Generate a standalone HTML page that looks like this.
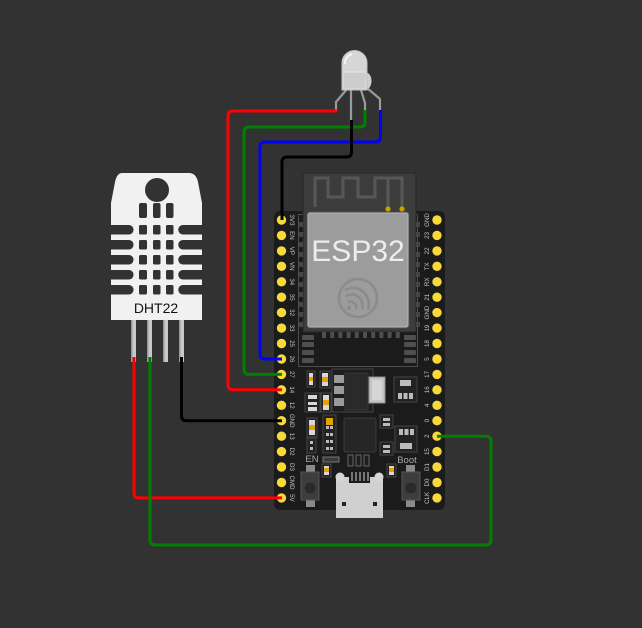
<!DOCTYPE html>
<html><head><meta charset="utf-8"><style>
html,body{margin:0;padding:0;background:#323232;}
svg{display:block;}
.pl{font-family:"Liberation Sans",sans-serif;font-size:6.2px;fill:#c4c4c4;}
</style></head><body>
<svg width="642" height="628" viewBox="0 0 642 628" xmlns="http://www.w3.org/2000/svg">
<rect width="642" height="628" fill="#323232"/>

<!-- ===== ESP32 board ===== -->
<rect x="274" y="211" width="171" height="299" rx="6" fill="#1b1b1b"/>
<rect x="298.5" y="214.5" width="119" height="152" fill="none" stroke="#4e4e4e" stroke-width="1"/>
<rect x="303" y="173" width="113" height="159" fill="#3c3c3c" stroke="#262626" stroke-width="1"/>
<path d="M315,207 V178 H328 V197 H343 V178 H358 V197 H375 V178 H402 V208 M388,178 V208" fill="none" stroke="#575757" stroke-width="3"/>
<circle cx="388" cy="209" r="2.6" fill="#c9a100"/>
<circle cx="402" cy="209" r="2.6" fill="#c9a100"/>
<g fill="#454545">
<rect x="299" y="222" width="4" height="5"/><rect x="299" y="232" width="4" height="5"/><rect x="299" y="242" width="4" height="5"/><rect x="299" y="252" width="4" height="5"/><rect x="299" y="262" width="4" height="5"/><rect x="299" y="272" width="4" height="5"/><rect x="299" y="282" width="4" height="5"/><rect x="299" y="292" width="4" height="5"/><rect x="299" y="302" width="4" height="5"/><rect x="299" y="312" width="4" height="5"/><rect x="299" y="322" width="4" height="5"/>
<rect x="416" y="222" width="4" height="5"/><rect x="416" y="232" width="4" height="5"/><rect x="416" y="242" width="4" height="5"/><rect x="416" y="252" width="4" height="5"/><rect x="416" y="262" width="4" height="5"/><rect x="416" y="272" width="4" height="5"/><rect x="416" y="282" width="4" height="5"/><rect x="416" y="292" width="4" height="5"/><rect x="416" y="302" width="4" height="5"/><rect x="416" y="312" width="4" height="5"/><rect x="416" y="322" width="4" height="5"/>
</g>
<g fill="#4f4f4f">
<rect x="322" y="332" width="4" height="6"/><rect x="330.2" y="332" width="4" height="6"/><rect x="338.4" y="332" width="4" height="6"/><rect x="346.6" y="332" width="4" height="6"/><rect x="354.8" y="332" width="4" height="6"/><rect x="363" y="332" width="4" height="6"/><rect x="371.2" y="332" width="4" height="6"/><rect x="379.4" y="332" width="4" height="6"/><rect x="387.6" y="332" width="4" height="6"/><rect x="395.8" y="332" width="4" height="6"/>
<rect x="302" y="335" width="12" height="5" rx="1"/><rect x="302" y="342" width="12" height="5" rx="1"/><rect x="302" y="350" width="12" height="5" rx="1"/><rect x="302" y="358" width="12" height="5" rx="1"/>
<rect x="404" y="335" width="12" height="5" rx="1"/><rect x="404" y="342" width="12" height="5" rx="1"/><rect x="404" y="350" width="12" height="5" rx="1"/><rect x="404" y="358" width="12" height="5" rx="1"/>
</g>
<rect x="306.5" y="211.5" width="103" height="117" rx="3" fill="#4a4a4a"/>
<rect x="308" y="213" width="100" height="114" rx="2" fill="#9c9c9c" stroke="#b8b8b8" stroke-width="1"/>
<text x="358" y="261" text-anchor="middle" font-family="Liberation Sans, sans-serif" font-size="30" fill="#ededed">ESP32</text>
<g fill="none" stroke="#8b8b8b" stroke-width="2.5">
<circle cx="358" cy="298" r="19"/>
<path d="M345,290 A16,16 0 0 1 368,309"/>
<path d="M346,296 A11,11 0 0 1 362,309"/>
<path d="M348,302 A6,6 0 0 1 356,309"/>
</g>
<circle cx="349" cy="308" r="2" fill="#8b8b8b"/>

<g stroke="#444" stroke-width="1" fill="#222">
<rect x="307" y="371" width="8" height="16"/>
<rect x="320" y="371" width="10" height="17"/>
<rect x="305" y="393" width="15" height="19"/>
<rect x="321" y="393" width="10" height="19"/>
<rect x="307" y="418" width="10" height="19"/>
<rect x="307" y="438" width="9" height="15"/>
<rect x="323" y="415" width="13" height="38"/>
<rect x="380" y="415" width="13" height="13"/>
<rect x="380" y="442" width="13" height="13"/>
<rect x="394" y="377" width="23" height="25"/>
<rect x="395" y="426" width="22" height="26"/>
</g>
<g fill="#d8d8d8">
<rect x="309" y="373" width="4" height="12"/><rect x="322" y="373" width="6" height="13"/>
<rect x="323" y="395" width="6" height="15"/><rect x="309" y="420" width="6" height="15"/>
<rect x="308" y="395" width="9" height="4"/><rect x="308" y="402" width="9" height="3"/><rect x="308" y="407" width="9" height="4"/>
</g>
<g fill="#e3a400">
<rect x="309" y="377" width="4" height="4"/><rect x="322" y="377" width="6" height="5"/>
<rect x="323" y="400" width="6" height="5"/><rect x="309" y="425" width="6" height="5"/>
<rect x="326" y="418" width="7" height="4"/><rect x="326" y="422" width="7" height="3"/>
<rect x="324" y="467" width="6" height="5"/><rect x="389" y="467" width="6" height="5"/>
</g>
<g fill="#bbb">
<rect x="310" y="441" width="3" height="3"/><rect x="310" y="447" width="3" height="3"/>
<rect x="326" y="426" width="3" height="3"/><rect x="330" y="426" width="3" height="3"/>
<rect x="326" y="433" width="3" height="3"/><rect x="330" y="433" width="3" height="3"/>
<rect x="326" y="440" width="3" height="3"/><rect x="330" y="440" width="3" height="3"/>
<rect x="326" y="447" width="3" height="3"/><rect x="330" y="447" width="3" height="3"/>
<rect x="383" y="418" width="7" height="3"/><rect x="383" y="423" width="7" height="3"/>
<rect x="383" y="445" width="7" height="3"/><rect x="383" y="450" width="7" height="3"/>
<rect x="400" y="380" width="11" height="6"/>
<rect x="398" y="393" width="4" height="6"/><rect x="403.5" y="393" width="4" height="6"/><rect x="409" y="393" width="4" height="6"/>
<rect x="399" y="429" width="4" height="6"/><rect x="404.5" y="429" width="4" height="6"/><rect x="410" y="429" width="4" height="6"/>
<rect x="400" y="443" width="12" height="6"/>
</g>
<rect x="332" y="369" width="41" height="43" fill="#1e1e1e" stroke="#444"/>
<g fill="#9a9a9a"><rect x="334" y="375" width="10" height="8"/><rect x="334" y="386" width="10" height="8"/><rect x="334" y="398" width="10" height="8"/></g>
<rect x="345" y="373" width="23" height="37" fill="#2a2a2a" stroke="#363636"/>
<rect x="369" y="377" width="16" height="26" fill="#c4c4c4" stroke="#8f8f8f"/>
<rect x="372" y="380" width="10" height="20" fill="#d6d6d6"/>
<rect x="344" y="418" width="32" height="34" rx="2" fill="#262626" stroke="#3a3a3a"/>
<rect x="323" y="457" width="16" height="5" fill="#3a3a3a" stroke="#777"/>
<g fill="#1e1e1e" stroke="#666"><rect x="348" y="455" width="5" height="11"/><rect x="356" y="455" width="5" height="11"/><rect x="364" y="455" width="5" height="11"/></g>
<g fill="#222" stroke="#444"><rect x="322" y="464" width="9" height="13"/><rect x="387" y="464" width="9" height="13"/></g>
<g fill="#d8d8d8"><rect x="324" y="466" width="5" height="9"/><rect x="389" y="466" width="5" height="9"/></g>
<g fill="#e3a400"><rect x="324" y="468" width="5" height="4"/><rect x="389" y="468" width="5" height="4"/></g>
<text x="312" y="462" text-anchor="middle" font-family="Liberation Sans, sans-serif" font-size="9.5" fill="#a8a8a8">EN</text>
<text x="407" y="463" text-anchor="middle" font-family="Liberation Sans, sans-serif" font-size="9.5" fill="#a8a8a8">Boot</text>
<g>
<rect x="306" y="465" width="9" height="8" fill="#8a8a8a"/>
<rect x="306" y="499" width="9" height="8" fill="#8a8a8a"/>
<rect x="301" y="472" width="18" height="28" fill="#3d3d3d" stroke="#555"/>
<circle cx="310" cy="488" r="5.5" fill="#2a2a2a"/>
<rect x="406" y="465" width="9" height="8" fill="#8a8a8a"/>
<rect x="406" y="499" width="9" height="8" fill="#8a8a8a"/>
<rect x="402" y="472" width="18" height="28" fill="#3d3d3d" stroke="#555"/>
<circle cx="411" cy="488" r="5.5" fill="#2a2a2a"/>
</g>
<rect x="336" y="477" width="47" height="41" fill="#d0d0d0"/>
<circle cx="340" cy="477" r="4.5" fill="#d6d6d6"/>
<circle cx="379" cy="477" r="4.5" fill="#d6d6d6"/>
<rect x="349" y="472" width="21" height="11" fill="#1b1b1b"/>
<g stroke="#cfcfcf" stroke-width="1"><line x1="352" y1="472" x2="352" y2="481"/><line x1="356" y1="472" x2="356" y2="481"/><line x1="360" y1="472" x2="360" y2="481"/><line x1="364" y1="472" x2="364" y2="481"/><line x1="368" y1="472" x2="368" y2="481"/></g>
<rect x="342" y="502" width="4" height="4" fill="#222"/>
<rect x="373" y="502" width="4" height="4" fill="#222"/>

<g fill="#f7da3a">
<circle cx="281.5" cy="220" r="4.7"/><circle cx="281.5" cy="235.4" r="4.7"/><circle cx="281.5" cy="250.9" r="4.7"/><circle cx="281.5" cy="266.3" r="4.7"/><circle cx="281.5" cy="281.8" r="4.7"/><circle cx="281.5" cy="297.2" r="4.7"/><circle cx="281.5" cy="312.6" r="4.7"/><circle cx="281.5" cy="328.1" r="4.7"/><circle cx="281.5" cy="343.5" r="4.7"/><circle cx="281.5" cy="359" r="4.7"/><circle cx="281.5" cy="374.4" r="4.7"/><circle cx="281.5" cy="389.8" r="4.7"/><circle cx="281.5" cy="405.3" r="4.7"/><circle cx="281.5" cy="420.7" r="4.7"/><circle cx="281.5" cy="436.2" r="4.7"/><circle cx="281.5" cy="451.6" r="4.7"/><circle cx="281.5" cy="467" r="4.7"/><circle cx="281.5" cy="482.5" r="4.7"/><circle cx="281.5" cy="497.9" r="4.7"/>
<circle cx="437" cy="220" r="4.7"/><circle cx="437" cy="235.4" r="4.7"/><circle cx="437" cy="250.9" r="4.7"/><circle cx="437" cy="266.3" r="4.7"/><circle cx="437" cy="281.8" r="4.7"/><circle cx="437" cy="297.2" r="4.7"/><circle cx="437" cy="312.6" r="4.7"/><circle cx="437" cy="328.1" r="4.7"/><circle cx="437" cy="343.5" r="4.7"/><circle cx="437" cy="359" r="4.7"/><circle cx="437" cy="374.4" r="4.7"/><circle cx="437" cy="389.8" r="4.7"/><circle cx="437" cy="405.3" r="4.7"/><circle cx="437" cy="420.7" r="4.7"/><circle cx="437" cy="436.2" r="4.7"/><circle cx="437" cy="451.6" r="4.7"/><circle cx="437" cy="467" r="4.7"/><circle cx="437" cy="482.5" r="4.7"/><circle cx="437" cy="497.9" r="4.7"/>
</g>
<g class="pl" text-anchor="middle">
<text transform="translate(290,220) rotate(90)">3V3</text>
<text transform="translate(290,235.4) rotate(90)">EN</text>
<text transform="translate(290,250.9) rotate(90)">VP</text>
<text transform="translate(290,266.3) rotate(90)">VN</text>
<text transform="translate(290,281.8) rotate(90)">34</text>
<text transform="translate(290,297.2) rotate(90)">35</text>
<text transform="translate(290,312.6) rotate(90)">32</text>
<text transform="translate(290,328.1) rotate(90)">33</text>
<text transform="translate(290,343.5) rotate(90)">25</text>
<text transform="translate(290,359) rotate(90)">26</text>
<text transform="translate(290,374.4) rotate(90)">27</text>
<text transform="translate(290,389.8) rotate(90)">14</text>
<text transform="translate(290,405.3) rotate(90)">12</text>
<text transform="translate(290,420.7) rotate(90)">GND</text>
<text transform="translate(290,436.2) rotate(90)">13</text>
<text transform="translate(290,451.6) rotate(90)">D2</text>
<text transform="translate(290,467) rotate(90)">D3</text>
<text transform="translate(290,482.5) rotate(90)">CMD</text>
<text transform="translate(290,497.9) rotate(90)">5V</text>
<text transform="translate(429,220) rotate(-90)">GND</text>
<text transform="translate(429,235.4) rotate(-90)">23</text>
<text transform="translate(429,250.9) rotate(-90)">22</text>
<text transform="translate(429,266.3) rotate(-90)">TX</text>
<text transform="translate(429,281.8) rotate(-90)">RX</text>
<text transform="translate(429,297.2) rotate(-90)">21</text>
<text transform="translate(429,312.6) rotate(-90)">GND</text>
<text transform="translate(429,328.1) rotate(-90)">19</text>
<text transform="translate(429,343.5) rotate(-90)">18</text>
<text transform="translate(429,359) rotate(-90)">5</text>
<text transform="translate(429,374.4) rotate(-90)">17</text>
<text transform="translate(429,389.8) rotate(-90)">16</text>
<text transform="translate(429,405.3) rotate(-90)">4</text>
<text transform="translate(429,420.7) rotate(-90)">0</text>
<text transform="translate(429,436.2) rotate(-90)">2</text>
<text transform="translate(429,451.6) rotate(-90)">15</text>
<text transform="translate(429,467) rotate(-90)">D1</text>
<text transform="translate(429,482.5) rotate(-90)">D0</text>
<text transform="translate(429,497.9) rotate(-90)">CLK</text>
</g>

<!-- ===== DHT22 ===== -->
<g>
<rect x="131" y="318" width="5" height="44" fill="#c9c9c9"/><rect x="131" y="318" width="1.5" height="44" fill="#9a9a9a"/>
<rect x="147" y="318" width="5" height="44" fill="#c9c9c9"/><rect x="147" y="318" width="1.5" height="44" fill="#9a9a9a"/>
<rect x="163" y="318" width="5" height="44" fill="#c9c9c9"/><rect x="163" y="318" width="1.5" height="44" fill="#9a9a9a"/>
<rect x="179" y="318" width="5" height="44" fill="#c9c9c9"/><rect x="179" y="318" width="1.5" height="44" fill="#9a9a9a"/>
<path d="M122,173 H189 Q196,173 198,182 L202,203 V320 H111 V203 L115,182 Q117,173 122,173 Z" fill="#f1f1f1"/>
<circle cx="157" cy="190" r="12" fill="#323232"/>
<g fill="#323232">
<rect x="139" y="203" width="8" height="15" rx="2"/><rect x="153" y="203" width="7.5" height="15" rx="2"/><rect x="166" y="203" width="7.5" height="15" rx="2"/>
<rect x="106" y="225" width="27.5" height="9.5" rx="4.5"/><rect x="139" y="225" width="8" height="9.5" rx="1.5"/><rect x="153" y="225" width="7.5" height="9.5" rx="1.5"/><rect x="166" y="225" width="7.5" height="9.5" rx="1.5"/><rect x="178.3" y="225" width="28" height="9.5" rx="4.5"/>
<rect x="106" y="240" width="27.5" height="9.5" rx="4.5"/><rect x="139" y="240" width="8" height="9.5" rx="1.5"/><rect x="153" y="240" width="7.5" height="9.5" rx="1.5"/><rect x="166" y="240" width="7.5" height="9.5" rx="1.5"/><rect x="178.3" y="240" width="28" height="9.5" rx="4.5"/>
<rect x="106" y="255" width="27.5" height="9.5" rx="4.5"/><rect x="139" y="255" width="8" height="9.5" rx="1.5"/><rect x="153" y="255" width="7.5" height="9.5" rx="1.5"/><rect x="166" y="255" width="7.5" height="9.5" rx="1.5"/><rect x="178.3" y="255" width="28" height="9.5" rx="4.5"/>
<rect x="106" y="270" width="27.5" height="9.5" rx="4.5"/><rect x="139" y="270" width="8" height="9.5" rx="1.5"/><rect x="153" y="270" width="7.5" height="9.5" rx="1.5"/><rect x="166" y="270" width="7.5" height="9.5" rx="1.5"/><rect x="178.3" y="270" width="28" height="9.5" rx="4.5"/>
<rect x="106" y="285" width="27.5" height="9.5" rx="4.5"/><rect x="139" y="285" width="8" height="9.5" rx="1.5"/><rect x="153" y="285" width="7.5" height="9.5" rx="1.5"/><rect x="166" y="285" width="7.5" height="9.5" rx="1.5"/><rect x="178.3" y="285" width="28" height="9.5" rx="4.5"/>
</g>
<rect x="106" y="220" width="5" height="80" fill="#323232"/>
<rect x="202" y="220" width="6" height="80" fill="#323232"/>
<text x="156" y="313" text-anchor="middle" font-family="Liberation Sans, sans-serif" font-size="14" fill="#111">DHT22</text>
</g>

<!-- ===== LED ===== -->
<g fill="none" stroke="#9a9a9a" stroke-width="2.2" stroke-linejoin="round">
<path d="M347,89 L336,102 V112"/>
<path d="M351,90 V122"/>
<path d="M361,90 L365,103 V112"/>
<path d="M367,88 L380,99 V112"/>
</g>
<ellipse cx="366" cy="81" rx="5.5" ry="8.5" fill="#cfcfcf"/>
<path d="M342,90 V63 A12.5,12.5 0 0 1 367,63 V90 Z" fill="#d6d6d6" stroke="#c2c2c2" stroke-width="1"/>
<path d="M345,64 A9.5,9.5 0 0 1 352,54" fill="none" stroke="#f4f4f4" stroke-width="2"/>
<rect x="344" y="72" width="21" height="16" fill="#cdcdcd"/>
<line x1="344" y1="72" x2="365" y2="72" stroke="#e6e6e6" stroke-width="1"/>

<!-- ===== Wires ===== -->
<g fill="none" stroke-width="3" stroke-linecap="butt">
<path d="M337,111 H233 Q228,111 228,116 V384.8 Q228,389.8 233,389.8 H282" stroke="#ff0000"/>
<path d="M365,110 V122 Q365,127 360,127 H249 Q244,127 244,132 V369.4 Q244,374.4 249,374.4 H282" stroke="#008000"/>
<path d="M380.5,110 V137 Q380.5,142 375.5,142 H265 Q260,142 260,147 V354 Q260,359 265,359 H282" stroke="#0000ff"/>
<path d="M351.5,120 V152 Q351.5,157 346.5,157 H287 Q282,157 282,162 V220" stroke="#000000"/>
<path d="M134,357 V492.9 Q134,497.9 139,497.9 H282" stroke="#ff0000"/>
<path d="M150,357 V540 Q150,545 155,545 H486 Q491,545 491,540 V441.2 Q491,436.2 486,436.2 H437" stroke="#008000"/>
<path d="M181.5,357 V415.7 Q181.5,420.7 186.5,420.7 H282" stroke="#000000"/>
</g>
</svg>
</body></html>
